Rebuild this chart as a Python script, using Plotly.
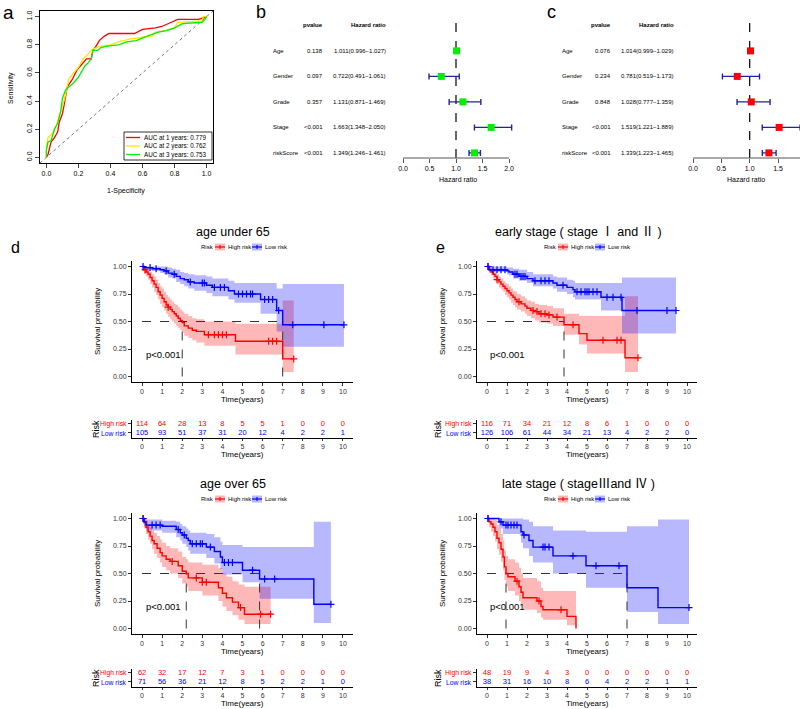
import numpy as np
import plotly.graph_objects as go

W, H = 800, 709
FONT = "Liberation Sans, Arial, sans-serif"
CJK = "Liberation Sans, Noto Sans CJK SC, sans-serif"


def px(v):
    return v / W


def py(v):
    return 1 - v / H


# ---------------- DATA ----------------
# Panel a: time-dependent ROC
roc_ticks = [0.0, 0.2, 0.4, 0.6, 0.8, 1.0]
roc_labels = ["AUC at 1 years: 0.779", "AUC at 2 years: 0.762", "AUC at 3 years: 0.753"]
roc_colors = ["#FF0000", "#FFE600", "#00EE00"]
roc1_fpr = [0.0, 0.01, 0.02, 0.03, 0.05, 0.07, 0.08, 0.10, 0.11, 0.12, 0.13, 0.16, 0.19, 0.22, 0.25, 0.28, 0.29, 0.31,
            0.33, 0.36, 0.39, 0.55, 0.60, 0.68, 0.72, 0.78, 0.82, 0.95, 0.98, 1.0]
roc1_tpr = [0.0, 0.02, 0.07, 0.11, 0.14, 0.18, 0.25, 0.31, 0.37, 0.43, 0.50, 0.55, 0.62, 0.66, 0.70, 0.70, 0.76, 0.79,
            0.83, 0.86, 0.88, 0.88, 0.91, 0.92, 0.93, 0.96, 0.98, 0.98, 0.99, 1.0]
roc2_fpr = [0.0, 0.0, 0.01, 0.03, 0.05, 0.07, 0.08, 0.10, 0.12, 0.13, 0.14, 0.17, 0.20, 0.23, 0.27, 0.29, 0.34, 0.40,
            0.45, 0.52, 0.58, 0.62, 0.66, 0.68, 0.74, 0.80, 0.82, 0.97, 0.98, 1.0]
roc2_tpr = [0.0, 0.07, 0.14, 0.16, 0.20, 0.25, 0.30, 0.36, 0.45, 0.52, 0.56, 0.60, 0.64, 0.70, 0.75, 0.77, 0.79, 0.80,
            0.82, 0.84, 0.85, 0.86, 0.86, 0.89, 0.90, 0.92, 0.96, 0.97, 1.0, 1.0]
roc3_fpr = [0.0, 0.0, 0.01, 0.03, 0.05, 0.07, 0.09, 0.10, 0.12, 0.14, 0.17, 0.20, 0.22, 0.24, 0.26, 0.28, 0.29, 0.32,
            0.34, 0.38, 0.45, 0.50, 0.56, 0.60, 0.65, 0.70, 0.75, 0.80, 0.85, 0.97, 0.99, 1.0]
roc3_tpr = [0.0, 0.05, 0.11, 0.12, 0.20, 0.24, 0.33, 0.42, 0.48, 0.50, 0.53, 0.57, 0.61, 0.65, 0.67, 0.70, 0.76, 0.76,
            0.78, 0.79, 0.80, 0.82, 0.83, 0.85, 0.87, 0.89, 0.90, 0.92, 0.95, 0.96, 0.98, 1.0]

# Panels b, c: forest plots
forest_vars = ["Age", "Gender", "Grade", "Stage", "riskScore"]
forest_ticks = [0.0, 0.5, 1.0, 1.5, 2.0]
uni_p = ["0.138", "0.097", "0.357", "<0.001", "<0.001"]
uni_hr = [1.011, 0.722, 1.131, 1.663, 1.349]
uni_lo = [0.996, 0.491, 0.871, 1.348, 1.246]
uni_hi = [1.027, 1.061, 1.469, 2.050, 1.461]
multi_p = ["0.076", "0.234", "0.848", "<0.001", "<0.001"]
multi_hr = [1.014, 0.781, 1.028, 1.519, 1.339]
multi_lo = [0.999, 0.519, 0.777, 1.221, 1.223]
multi_hi = [1.029, 1.173, 1.359, 1.889, 1.465]

# Panels d, e: Kaplan-Meier (time, survival, lower CI, upper CI, end, censor times)
km_titles = ["age under 65", "early stage ( stage \u2160 and \u2161 )",
             "age over 65", "late stage ( stage\u2162and \u2163 )"]
risk_times = list(range(11))

d1_high_t = [0, 0.1, 0.2, 0.3, 0.4, 0.5, 0.6, 0.7, 0.8, 0.9, 1.0, 1.1, 1.2, 1.3, 1.4, 1.5, 1.6, 1.7, 1.8, 1.9, 2.0,
             2.1, 2.3, 2.5, 2.7, 3.1, 4.65, 7.0]
d1_high_s = [1.0, 0.97, 0.95, 0.93, 0.90, 0.87, 0.84, 0.81, 0.77, 0.74, 0.71, 0.68, 0.65, 0.63, 0.61, 0.59, 0.57,
             0.55, 0.53, 0.51, 0.49, 0.46, 0.44, 0.42, 0.41, 0.38, 0.32, 0.16]
d1_high_lo = [1.0, 0.93, 0.91, 0.88, 0.84, 0.81, 0.77, 0.74, 0.70, 0.66, 0.63, 0.60, 0.57, 0.54, 0.52, 0.50, 0.48,
              0.46, 0.44, 0.42, 0.40, 0.37, 0.35, 0.33, 0.31, 0.28, 0.20, 0.04]
d1_high_up = [1.0, 1.0, 0.99, 0.97, 0.95, 0.93, 0.91, 0.88, 0.85, 0.82, 0.80, 0.77, 0.74, 0.72, 0.70, 0.68, 0.66,
              0.65, 0.63, 0.61, 0.59, 0.57, 0.55, 0.53, 0.52, 0.50, 0.48, 0.69]
d1_high_end = 7.55
d1_high_cens = [0.15, 1.3, 3.3, 3.6, 3.8, 4.0, 4.2, 6.3, 6.5, 6.7, 7.55]
d1_low_t = [0, 0.1, 0.5, 0.9, 1.1, 1.3, 1.5, 1.7, 1.9, 2.1, 2.3, 2.6, 3.2, 3.5, 4.3, 4.6, 5.9, 6.7, 7.0]
d1_low_s = [1.0, 0.99, 0.98, 0.97, 0.96, 0.94, 0.93, 0.91, 0.89, 0.88, 0.86, 0.85, 0.83, 0.81, 0.78, 0.75, 0.70,
            0.60, 0.47]
d1_low_lo = [1.0, 0.97, 0.96, 0.94, 0.93, 0.90, 0.89, 0.86, 0.84, 0.82, 0.80, 0.78, 0.76, 0.73, 0.70, 0.67, 0.57,
             0.41, 0.27]
d1_low_up = [1.0, 1.0, 1.0, 1.0, 1.0, 0.99, 0.98, 0.97, 0.95, 0.94, 0.93, 0.92, 0.91, 0.89, 0.87, 0.85, 0.85,
             0.80, 0.84]
d1_low_end = 10.05
d1_low_cens = [0.05, 0.4, 0.7, 1.2, 1.6, 2.4, 3.0, 3.1, 3.6, 3.9, 4.1, 4.8, 5.0, 5.2, 5.4, 5.5, 6.1, 6.3, 6.5,
               6.8, 7.5, 9.05, 10.05]
d1_risk_high = [114, 64, 28, 13, 8, 5, 5, 1, 0, 0, 0]
d1_risk_low = [105, 93, 51, 37, 31, 20, 12, 4, 2, 2, 1]

e1_high_t = [0, 0.1, 0.2, 0.3, 0.4, 0.5, 0.6, 0.7, 0.8, 0.9, 1.0, 1.1, 1.2, 1.3, 1.4, 1.5, 1.7, 1.9, 2.0, 2.2, 2.4,
             2.6, 3.0, 3.3, 3.85, 4.6, 5.0, 6.9]
e1_high_s = [1.0, 0.97, 0.95, 0.93, 0.91, 0.88, 0.86, 0.84, 0.82, 0.80, 0.78, 0.76, 0.74, 0.72, 0.70, 0.68, 0.66,
             0.64, 0.62, 0.60, 0.59, 0.57, 0.56, 0.54, 0.47, 0.39, 0.33, 0.17]
e1_high_lo = [1.0, 0.94, 0.92, 0.89, 0.87, 0.84, 0.81, 0.79, 0.77, 0.74, 0.72, 0.70, 0.67, 0.65, 0.63, 0.61, 0.59,
              0.57, 0.55, 0.53, 0.51, 0.49, 0.48, 0.46, 0.38, 0.29, 0.21, 0.04]
e1_high_up = [1.0, 1.0, 0.99, 0.97, 0.95, 0.93, 0.91, 0.89, 0.87, 0.85, 0.84, 0.82, 0.80, 0.78, 0.77, 0.75, 0.73,
              0.71, 0.69, 0.68, 0.66, 0.65, 0.64, 0.62, 0.57, 0.55, 0.55, 0.73]
e1_high_end = 7.55
e1_high_cens = [0.05, 0.5, 1.6, 2.3, 2.5, 2.7, 2.9, 3.1, 3.5, 4.3, 5.8, 6.5, 6.7, 7.55]
e1_low_t = [0, 0.1, 1.0, 1.1, 1.3, 1.6, 2.0, 2.3, 3.3, 3.5, 4.0, 4.3, 4.4, 5.7, 6.75]
e1_low_s = [1.0, 0.97, 0.96, 0.95, 0.93, 0.91, 0.89, 0.87, 0.85, 0.83, 0.81, 0.79, 0.77, 0.72, 0.60]
e1_low_lo = [1.0, 0.95, 0.93, 0.92, 0.89, 0.87, 0.85, 0.82, 0.80, 0.77, 0.75, 0.72, 0.70, 0.60, 0.39]
e1_low_up = [1.0, 1.0, 0.99, 0.99, 0.98, 0.97, 0.95, 0.93, 0.91, 0.90, 0.88, 0.87, 0.85, 0.85, 0.90]
e1_low_end = 9.45
e1_low_cens = [0.05, 0.3, 0.5, 0.7, 0.9, 1.4, 1.5, 1.7, 1.8, 1.9, 2.4, 2.7, 2.9, 3.1, 3.8, 4.5, 4.7, 4.9, 5.0,
               5.1, 5.3, 5.5, 6.0, 6.3, 6.7, 7.5, 9.0, 9.45]
e1_risk_high = [116, 71, 34, 21, 12, 8, 6, 1, 0, 0, 0]
e1_risk_low = [126, 106, 61, 44, 34, 21, 13, 4, 2, 2, 0]

d2_high_t = [0, 0.1, 0.2, 0.3, 0.4, 0.5, 0.6, 0.75, 0.9, 1.0, 1.2, 1.4, 1.8, 2.0, 2.2, 2.3, 3.0, 3.8, 4.0, 4.2,
             4.5, 4.8, 5.1]
d2_high_s = [1.0, 0.96, 0.92, 0.88, 0.84, 0.80, 0.77, 0.73, 0.69, 0.66, 0.63, 0.61, 0.57, 0.52, 0.50, 0.46, 0.42,
             0.37, 0.32, 0.28, 0.24, 0.19, 0.13]
d2_high_lo = [1.0, 0.91, 0.86, 0.81, 0.77, 0.72, 0.68, 0.64, 0.60, 0.56, 0.53, 0.50, 0.46, 0.41, 0.38, 0.34, 0.30,
              0.25, 0.20, 0.16, 0.12, 0.08, 0.04]
d2_high_up = [1.0, 1.0, 0.98, 0.95, 0.92, 0.89, 0.87, 0.84, 0.81, 0.78, 0.75, 0.73, 0.70, 0.65, 0.63, 0.60, 0.58,
              0.55, 0.50, 0.47, 0.43, 0.40, 0.38]
d2_high_end = 6.4
d2_high_cens = [0.05, 1.5, 2.7, 3.0, 3.2, 4.9, 5.9, 6.4]
d2_low_t = [0, 0.1, 0.2, 1.0, 1.7, 1.9, 2.0, 2.2, 2.3, 2.4, 3.2, 3.6, 3.9, 4.0, 5.0, 5.85, 8.55]
d2_low_s = [1.0, 0.97, 0.94, 0.93, 0.90, 0.87, 0.85, 0.82, 0.80, 0.77, 0.74, 0.70, 0.65, 0.60, 0.53, 0.45, 0.22]
d2_low_lo = [1.0, 0.93, 0.89, 0.87, 0.83, 0.80, 0.77, 0.74, 0.71, 0.68, 0.64, 0.59, 0.54, 0.49, 0.42, 0.27, 0.05]
d2_low_up = [1.0, 1.0, 0.99, 0.98, 0.97, 0.95, 0.93, 0.91, 0.89, 0.87, 0.86, 0.83, 0.79, 0.76, 0.74, 0.74, 0.97]
d2_low_end = 9.4
d2_low_cens = [0.05, 0.5, 0.7, 0.9, 1.8, 2.1, 2.5, 2.7, 2.9, 3.0, 3.4, 4.1, 4.3, 4.5, 5.5, 6.1, 6.6, 9.4]
d2_risk_high = [62, 32, 17, 12, 7, 3, 1, 0, 0, 0, 0]
d2_risk_low = [71, 56, 36, 21, 12, 8, 5, 2, 2, 1, 0]

e2_high_t = [0, 0.1, 0.2, 0.3, 0.4, 0.5, 0.6, 0.7, 0.8, 0.87, 0.95, 1.05, 1.4, 1.6, 1.7, 1.8, 2.5, 2.7, 2.8,
             4.0, 4.45]
e2_high_s = [1.0, 0.97, 0.95, 0.92, 0.88, 0.82, 0.78, 0.72, 0.65, 0.56, 0.50, 0.47, 0.43, 0.38, 0.33, 0.28, 0.25,
             0.20, 0.17, 0.11, 0.0]
e2_high_lo = [1.0, 0.92, 0.88, 0.84, 0.79, 0.72, 0.67, 0.61, 0.53, 0.44, 0.38, 0.34, 0.30, 0.25, 0.21, 0.17, 0.14,
              0.10, 0.08, 0.03, 0.0]
e2_high_up = [1.0, 1.0, 1.0, 1.0, 0.99, 0.94, 0.91, 0.86, 0.80, 0.71, 0.66, 0.63, 0.60, 0.55, 0.50, 0.46, 0.43,
              0.37, 0.34, 0.34, 0.34]
e2_high_end = 4.45
e2_high_cens = [0.05, 1.5, 2.6, 3.7]
e2_low_t = [0, 0.6, 0.8, 1.7, 1.8, 2.1, 2.3, 3.3, 4.95, 7.0, 8.55]
e2_low_s = [1.0, 0.97, 0.94, 0.88, 0.85, 0.80, 0.74, 0.66, 0.57, 0.37, 0.19]
e2_low_lo = [1.0, 0.91, 0.86, 0.78, 0.73, 0.66, 0.60, 0.50, 0.37, 0.15, 0.04]
e2_low_up = [1.0, 1.0, 1.0, 1.0, 0.99, 0.97, 0.93, 0.89, 0.88, 0.93, 0.99]
e2_low_end = 10.1
e2_low_cens = [0.05, 0.7, 0.95, 1.05, 1.2, 1.35, 1.5, 1.85, 2.8, 2.9, 3.1, 4.3, 5.45, 6.6, 10.1]
e2_risk_high = [48, 19, 9, 4, 3, 0, 0, 0, 0, 0, 0]
e2_risk_low = [38, 31, 16, 10, 8, 6, 4, 2, 2, 1, 1]

# ---------------- FIGURE ----------------
fig = go.Figure()
annotations = []
shapes = []
layout = {}


def ann(text, x, y, size, xanchor="center", yanchor="middle", color="black", angle=0,
        xref="paper", yref="paper", family=FONT):
    annotations.append(dict(text=text, x=x, y=y, xref=xref, yref=yref, showarrow=False,
                            xanchor=xanchor, yanchor=yanchor, textangle=angle, borderpad=0,
                            font=dict(size=size, color=color, family=family)))


def hline(x0, x1, yv, color, width=1, dash="solid"):
    shapes.append(dict(type="line", xref="paper", yref="paper", x0=px(x0), x1=px(x1), y0=py(yv), y1=py(yv),
                       line=dict(color=color, width=width, dash=dash)))


# ---- Panel a: ROC ----
layout["xaxis"] = dict(domain=[px(40), px(213)], range=[-0.04, 1.04], anchor="y",
                       tickvals=roc_ticks, ticktext=[f"{v:.1f}" for v in roc_ticks],
                       ticks="outside", ticklen=4, tickwidth=1, showline=True, mirror=True,
                       linecolor="black", linewidth=1, showgrid=False, zeroline=False,
                       tickfont=dict(size=7, color="black"))
layout["yaxis"] = dict(domain=[py(163), py(11)], range=[-0.04, 1.04], anchor="x",
                       tickvals=roc_ticks, ticktext=[f"{v:.1f}" for v in roc_ticks], tickangle=-90,
                       ticks="outside", ticklen=4, tickwidth=1, showline=True, mirror=True,
                       linecolor="black", linewidth=1, showgrid=False, zeroline=False,
                       tickfont=dict(size=7, color="black"))
fig.add_trace(go.Scatter(x=[-0.04, 1.04], y=[-0.04, 1.04], mode="lines", xaxis="x", yaxis="y",
                         line=dict(color="#777777", width=1, dash="dot"), showlegend=False))
for fpr, tpr, col in zip([roc1_fpr, roc2_fpr, roc3_fpr], [roc1_tpr, roc2_tpr, roc3_tpr], roc_colors):
    fig.add_trace(go.Scatter(x=fpr, y=tpr, mode="lines", xaxis="x", yaxis="y",
                             line=dict(color=col, width=1.3), showlegend=False))
ann("1-Specificity", px(126), py(191), 7)
ann("Sensitivity", px(11), py(88), 7, angle=-90)
ann("a", px(8), py(13), 19)
# ROC legend
shapes.append(dict(type="rect", xref="paper", yref="paper", x0=px(124), x1=px(212), y0=py(160), y1=py(132),
                   line=dict(color="black", width=0.8), fillcolor="white"))
for i, (lab, col) in enumerate(zip(roc_labels, roc_colors)):
    yy = 137.5 + i * 8.5
    hline(126, 140, yy, col, 1.3)
    ann(lab, px(143), py(yy), 6.3, xanchor="left")

# ---- Panels b, c: forest ----
rows = [len(forest_vars) - i for i in range(len(forest_vars))]
forest_specs = [
    dict(xa="x2", ya="y2", x0=403, ppu=53.0, rng=2.1, col="#00EE00", p=uni_p, hr=uni_hr, lo=uni_lo, hi=uni_hi,
         lab_x=272, p_x=324, hr_x=387, letter="b", letter_x=261, title_x=458),
    dict(xa="x3", ya="y3", x0=693, ppu=56.7, rng=107 / 56.7, col="#FF0000", p=multi_p, hr=multi_hr,
         lo=multi_lo, hi=multi_hi, lab_x=561, p_x=612, hr_x=675, letter="c", letter_x=551, title_x=746),
]
for k, sp in enumerate(forest_specs):
    n = k + 2
    xdom1 = min(1.0, px(sp["x0"] + sp["rng"] * sp["ppu"]))
    layout[f"xaxis{n}"] = dict(domain=[px(sp["x0"]), xdom1], range=[0, sp["rng"]], anchor=f"y{n}",
                               tickvals=forest_ticks, ticktext=[f"{v:.1f}" for v in forest_ticks],
                               ticks="outside", ticklen=4, tickwidth=1, tickcolor="#555555",
                               showline=False, showgrid=False, zeroline=False,
                               tickfont=dict(size=7, color="black"))
    layout[f"yaxis{n}"] = dict(domain=[py(158), py(17.75)], range=[0.8, 6.3], anchor=f"x{n}", visible=False)
    shapes.append(dict(type="line", xref=sp["xa"], yref="paper", x0=0, x1=min(2.0, sp["rng"]),
                       y0=py(158), y1=py(158), line=dict(color="#555555", width=1)))
    fig.add_trace(go.Scatter(x=[1, 1], y=[0.8, 6.2], mode="lines", xaxis=sp["xa"], yaxis=sp["ya"],
                             line=dict(color="black", width=1.2, dash="dash"), showlegend=False))
    hr = np.array(sp["hr"])
    fig.add_trace(go.Scatter(
        x=hr, y=rows, mode="markers", xaxis=sp["xa"], yaxis=sp["ya"], cliponaxis=False,
        marker=dict(symbol="square", size=7, color=sp["col"]),
        error_x=dict(type="data", array=np.array(sp["hi"]) - hr, arrayminus=hr - np.array(sp["lo"]),
                     color="#232399", thickness=1.4, width=3),
        showlegend=False))
    ann("<b>pvalue</b>", px(sp["p_x"]), 6, 6, xanchor="right", yref=sp["ya"])
    ann("<b>Hazard ratio</b>", px(sp["hr_x"]), 6, 6, xanchor="right", yref=sp["ya"])
    for r, lab, pv, h, lo, hi in zip(rows, forest_vars, sp["p"], sp["hr"], sp["lo"], sp["hi"]):
        ann(lab, px(sp["lab_x"]), r, 6, xanchor="left", yref=sp["ya"])
        ann(pv, px(sp["p_x"]), r, 6, xanchor="right", yref=sp["ya"])
        ann(f"{h:.3f}({lo:.3f}\u2212{hi:.3f})", px(sp["hr_x"]), r, 6, xanchor="right", yref=sp["ya"])
    ann("Hazard ratio", px(sp["title_x"]), py(179), 7)
    ann(sp["letter"], px(sp["letter_x"]), py(12), 18)

# ---- Panels d, e: KM ----
km_groups = [
    [(d1_high_t, d1_high_s, d1_high_lo, d1_high_up, d1_high_end, d1_high_cens),
     (d1_low_t, d1_low_s, d1_low_lo, d1_low_up, d1_low_end, d1_low_cens), d1_risk_high, d1_risk_low],
    [(e1_high_t, e1_high_s, e1_high_lo, e1_high_up, e1_high_end, e1_high_cens),
     (e1_low_t, e1_low_s, e1_low_lo, e1_low_up, e1_low_end, e1_low_cens), e1_risk_high, e1_risk_low],
    [(d2_high_t, d2_high_s, d2_high_lo, d2_high_up, d2_high_end, d2_high_cens),
     (d2_low_t, d2_low_s, d2_low_lo, d2_low_up, d2_low_end, d2_low_cens), d2_risk_high, d2_risk_low],
    [(e2_high_t, e2_high_s, e2_high_lo, e2_high_up, e2_high_end, e2_high_cens),
     (e2_low_t, e2_low_s, e2_low_lo, e2_low_up, e2_low_end, e2_low_cens), e2_risk_high, e2_risk_low],
]
line_cols = ["#FF0000", "#0000FF"]
fill_cols = ["rgba(255,0,0,0.28)", "rgba(0,0,255,0.28)"]
risk_names = ["High risk", "Low risk"]
col_x = [(132, 353), (477, 697)]
col_title_x = [233, 578]
col_ylab_x = [97, 442]
col_risk_x = [96, 438]
col_letter_x = [15, 440]
col_leg_x = [200, 543]
letters = ["d", "e", None, None]

axis_style = dict(ticks="outside", tickwidth=1, tickcolor="#333333", showline=True,
                  linecolor="black", linewidth=1, showgrid=False, zeroline=False,
                  tickfont=dict(size=7, color="#333333"))

for k, (hi_g, lo_g, rh, rl) in enumerate(km_groups):
    col = k % 2
    row = k // 2
    dy = 252 * row
    dr = 249 * row  # risk table vertical shift
    nk = 4 + 2 * k
    nr = 5 + 2 * k
    xa, ya = f"x{nk}", f"y{nk}"
    xr, yr = f"x{nr}", f"y{nr}"
    xdom = [px(col_x[col][0]), px(col_x[col][1])]
    layout[f"xaxis{nk}"] = dict(domain=xdom, range=[-0.5, 10.5], anchor=ya, tickvals=risk_times, ticklen=3,
                                **axis_style)
    layout[f"yaxis{nk}"] = dict(domain=[py(382 + dy), py(261 + dy)], range=[-0.05, 1.05], anchor=xa,
                                tickvals=[0, 0.25, 0.5, 0.75, 1.0], ticklen=3,
                                ticktext=["0.00", "0.25", "0.50", "0.75", "1.00"], **axis_style)
    layout[f"xaxis{nr}"] = dict(domain=xdom, range=[-0.5, 10.5], anchor=yr, tickvals=risk_times, ticklen=2,
                                **axis_style)
    layout[f"yaxis{nr}"] = dict(domain=[py(438 + dr), py(420 + dr)], range=[0.44, 2.44], anchor=xr,
                                tickvals=[1, 2], ticktext=["", ""], ticklen=3, **axis_style)

    groups = [hi_g, lo_g]
    # CI bands
    for g, (t, s, lo, up, end, cens) in enumerate(groups):
        assert len(t) == len(s) == len(lo) == len(up)
        xs = list(t) + [end]
        fig.add_trace(go.Scatter(x=xs, y=list(lo) + [lo[-1]], mode="lines", line=dict(width=0, shape="hv"),
                                 xaxis=xa, yaxis=ya, showlegend=False, hoverinfo="skip"))
        fig.add_trace(go.Scatter(x=xs, y=list(up) + [up[-1]], mode="lines", line=dict(width=0, shape="hv"),
                                 fill="tonexty", fillcolor=fill_cols[g],
                                 xaxis=xa, yaxis=ya, showlegend=False, hoverinfo="skip"))
    # median lines
    medians = []
    for (t, s, lo, up, end, cens) in groups:
        idx = [i for i, v in enumerate(s) if v <= 0.5]
        if idx:
            medians.append(t[idx[0]])
    if medians:
        fig.add_trace(go.Scatter(x=[0, max(medians)], y=[0.5, 0.5], mode="lines", xaxis=xa, yaxis=ya,
                                 line=dict(color="#333333", width=1, dash="dash"), showlegend=False))
        for m in medians:
            fig.add_trace(go.Scatter(x=[m, m], y=[0, 0.5], mode="lines", xaxis=xa, yaxis=ya,
                                     line=dict(color="#333333", width=1, dash="dash"), showlegend=False))
    # survival curves + censors
    for g, (t, s, lo, up, end, cens) in enumerate(groups):
        fig.add_trace(go.Scatter(x=list(t) + [end], y=list(s) + [s[-1]], mode="lines",
                                 line=dict(color=line_cols[g], width=1.4, shape="hv"),
                                 xaxis=xa, yaxis=ya, showlegend=False))
        ta = np.array(t)
        cy = [s[max(0, int(np.searchsorted(ta, c, side="right")) - 1)] for c in cens]
        fig.add_trace(go.Scatter(x=cens, y=cy, mode="markers", xaxis=xa, yaxis=ya, cliponaxis=False,
                                 marker=dict(symbol="cross-thin", size=5, line=dict(color=line_cols[g], width=1.2)),
                                 showlegend=False))
    ann("p<0.001", 1.05, 0.2, 9.5, xref=xa, yref=ya)

    # risk table numbers
    for g, (vals, yv) in enumerate([(rh, 2), (rl, 1)]):
        fig.add_trace(go.Scatter(x=risk_times, y=[yv] * len(risk_times), mode="text",
                                 text=[str(v) for v in vals], xaxis=xr, yaxis=yr,
                                 textfont=dict(size=7.5, color=line_cols[g], family=FONT), showlegend=False))
        ann(risk_names[g], px(col_x[col][0] - 4), py(424 + dr + 9 * g), 6.8, xanchor="right", color=line_cols[g])

    # titles and labels
    ann(km_titles[k], px(col_title_x[col]), py(232 + dy), 12.5, family=CJK)
    ann("Time(years)", px((col_x[col][0] + col_x[col][1]) / 2), py(399.5 + dy), 8)
    ann("Time(years)", px((col_x[col][0] + col_x[col][1]) / 2), py(454.5 + dr), 8)
    ann("Survival probability", px(col_ylab_x[col]), py(322 + dy), 8, angle=-90)
    ann("Risk", px(col_risk_x[col]), py(429 + dr), 9, angle=-90)
    if letters[k]:
        ann(letters[k], px(col_letter_x[col]), py(247), 16)

    # legend
    lx = col_leg_x[col]
    ly = 247 + dy
    ann("Risk", px(lx), py(ly), 6, xanchor="left")
    for g, (off, name) in enumerate([(15, "High risk"), (52, "Low risk")]):
        shapes.append(dict(type="rect", xref="paper", yref="paper", x0=px(lx + off), x1=px(lx + off + 10),
                           y0=py(ly + 3.5), y1=py(ly - 3.5), line=dict(width=0), fillcolor=fill_cols[g]))
        hline(lx + off, lx + off + 10, ly, line_cols[g], 1.2)
        shapes.append(dict(type="line", xref="paper", yref="paper", x0=px(lx + off + 5), x1=px(lx + off + 5),
                           y0=py(ly + 2), y1=py(ly - 2), line=dict(color=line_cols[g], width=1.1)))
        ann(name, px(lx + off + 12), py(ly), 6, xanchor="left")

layout.update(dict(width=W, height=H, autosize=False, margin=dict(l=0, r=0, t=0, b=0),
                   paper_bgcolor="white", plot_bgcolor="rgba(0,0,0,0)", template="none",
                   font=dict(family=FONT, color="black"), showlegend=False,
                   annotations=annotations, shapes=shapes))
fig.update_layout(**layout)
fig.write_html("out.html", config={"displayModeBar": False},
               post_script="document.body.style.margin='0';document.body.style.overflow='hidden';")
